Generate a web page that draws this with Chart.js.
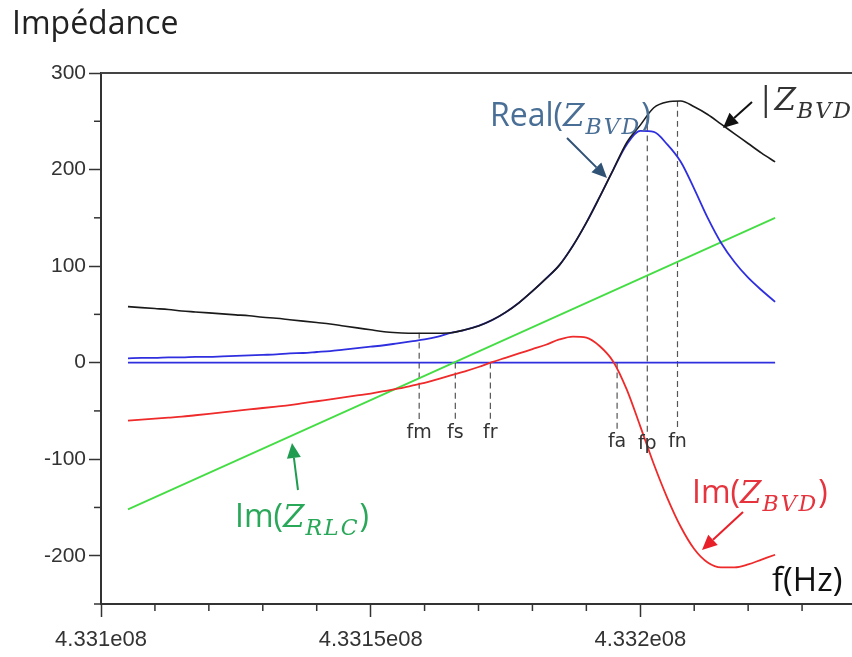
<!DOCTYPE html>
<html>
<head>
<meta charset="utf-8">
<title>Impédance</title>
<script src="https://cdn.jsdelivr.net/npm/chart.js@4.4.1/dist/chart.umd.min.js"></script>
<style>
  html, body { margin: 0; padding: 0; background: #fff; overflow: hidden; }
  #wrap { width: 866px; height: 657px; }
</style>
</head>
<body>
<div id="wrap"><canvas id="impChart" width="866" height="657"></canvas></div>
<script>
// fréquences : décalage en kHz par rapport à 433.1 MHz
const F0 = 433100000;
const freqKHz = [5, 7.5, 10, 12.5, 15, 17.5, 20, 22.5, 25, 27.5, 30, 32.5, 35, 37.5, 40, 42.5, 45,
  47.5, 50, 52.5, 55, 57.5, 60, 62.5, 65, 67.5, 70, 72.5, 75, 77.5, 80, 82.5, 85, 87.5, 90, 92.5,
  95, 97.5, 100, 102.5, 105, 107.5, 110, 112.5, 115, 117.5, 120, 122.5, 125];

// |Z_BVD|
const absZ = [58, 57, 56, 55, 53.5, 52.5, 51.5, 50.5, 49.5, 48.5, 47, 46, 44.5, 43, 41.5, 40, 38,
  36, 34, 32, 31, 30.5, 30.5, 30.5, 31, 34, 38, 44, 52, 62, 74, 87, 101, 121, 145, 172,
  200, 228, 246, 264, 270, 271, 265, 257, 247, 237, 227, 217, 208];
// Real(Z_BVD)
const realZ = [4.5, 5, 5, 5.5, 5.5, 6, 6, 6.5, 7, 7.5, 8, 8.5, 9.5, 10, 11, 12, 13.5,
  15, 16.5, 18, 20, 22, 24, 27, 31, 34, 38, 44, 52, 62, 74, 87, 101, 121, 145, 172,
  200, 226, 240, 239, 226, 208, 180, 150, 124, 104, 88, 75, 63];
// Im(Z_BVD)
const imBVD = [-60, -59, -58, -57, -56, -54.5, -53, -51.5, -50, -48.5, -47, -45.5, -44, -42, -40, -38, -36,
  -34, -32, -29.5, -27, -24, -21, -17, -13, -9, -4.5, 0.5, 5, 9.5, 14, 18.5, 24, 27, 26, 17,
  1, -28, -66, -105, -140, -170, -193, -207, -212, -212, -209, -204, -199];
// Im(Z_RLC) : droite
const rlcKHz = [5, 125];
const imRLC = [-152, 150];
// axe zéro
const zeroKHz = [5, 125];
const zeroVal = [0, 0];

// fréquences caractéristiques
const markerNames = ['fm', 'fs', 'fr', 'fa', 'fp', 'fn'];
const markerKHz = [59, 65.7, 72.2, 95.7, 101.3, 106.9];
const markerTop = [31, 0, 0, 0, 256, 271];
const markerBottom = [-61, -61, -61, -70, -72, -70];

const yTicks = [300, 200, 100, 0, -100, -200];

const toXY = (ks, vs) => ks.map((k, i) => ({ x: F0 + k * 1000, y: vs[i] }));

const SANS = '"Open Sans", "Noto Sans", sans-serif';
const SERIF = '"DejaVu Serif", serif';

function drawMath(ctx, x, y, parts, color) {
  ctx.fillStyle = color;
  ctx.textBaseline = 'alphabetic';
  ctx.textAlign = 'left';
  parts.forEach(p => {
    ctx.font = p.font;
    for (const ch of p.t) {
      ctx.fillText(ch, x, y + (p.dy || 0));
      x += ctx.measureText(ch).width + (p.sp || 0);
    }
  });
}

function drawArrow(ctx, x1, y1, x2, y2, color) {
  const a = Math.atan2(y2 - y1, x2 - x1);
  const hl = 15, hw = 7;
  const bx = x2 - hl * Math.cos(a), by = y2 - hl * Math.sin(a);
  ctx.strokeStyle = color;
  ctx.fillStyle = color;
  ctx.lineWidth = 2;
  ctx.beginPath();
  ctx.moveTo(x1, y1);
  ctx.lineTo(bx, by);
  ctx.stroke();
  ctx.beginPath();
  ctx.moveTo(x2, y2);
  ctx.lineTo(bx + hw * Math.sin(a), by - hw * Math.cos(a));
  ctx.lineTo(bx - hw * Math.sin(a), by + hw * Math.cos(a));
  ctx.closePath();
  ctx.fill();
}

function zLabel(prefix, sub, sans, serif, subFont) {
  return [
    { t: prefix, font: sans },
    { t: 'Z', font: serif, sp: 1 },
    { t: sub, font: subFont, dy: 8, sp: 2 },
    { t: prefix === '|' ? '|' : ')', font: sans }
  ];
}

const decor = {
  id: 'decor',
  afterDraw(chart) {
    const { ctx, chartArea, scales } = chart;
    ctx.save();
    // bord supérieur
    ctx.strokeStyle = '#444';
    ctx.lineWidth = 2;
    ctx.beginPath();
    ctx.moveTo(chartArea.left, chartArea.top);
    ctx.lineTo(chart.width, chartArea.top);
    ctx.stroke();

    // graduations secondaires
    ctx.strokeStyle = '#333';
    ctx.lineWidth = 1.5;
    scales.x.ticks.forEach(t => {
      if (Math.round((t.value - F0) / 10000) % 5 === 0) return;
      const px = scales.x.getPixelForValue(t.value);
      ctx.beginPath();
      ctx.moveTo(px, chartArea.bottom);
      ctx.lineTo(px, chartArea.bottom + 7);
      ctx.stroke();
    });
    scales.y.ticks.forEach(t => {
      if (t.value % 100 === 0) return;
      const py = scales.y.getPixelForValue(t.value);
      ctx.beginPath();
      ctx.moveTo(chartArea.left, py);
      ctx.lineTo(chartArea.left - 7, py);
      ctx.stroke();
    });

    // noms des fréquences
    ctx.fillStyle = '#333';
    ctx.font = '19px "DejaVu Sans", sans-serif';
    ctx.textAlign = 'center';
    ctx.textBaseline = 'middle';
    markerNames.forEach((n, i) => {
      const px = scales.x.getPixelForValue(F0 + markerKHz[i] * 1000);
      const py = scales.y.getPixelForValue(markerBottom[i]) + 12;
      ctx.fillText(n, px, py);
    });

    // titres
    drawMath(ctx, 12, 34, [{ t: 'Impédance', font: '32px ' + SANS }], '#222');
    drawMath(ctx, 772, 591, [{ t: 'f(Hz)', font: '33px ' + SANS }], '#111');

    const sans = '32px ' + SANS;
    const serif = 'italic 31px ' + SERIF;
    const sub = 'italic 22px ' + SERIF;
    drawMath(ctx, 490, 126, zLabel('Real(', 'BVD', sans, serif, sub), '#4a6f96');
    drawMath(ctx, 757, 110, zLabel('|', 'BVD', sans, serif, sub), '#333');
    drawMath(ctx, 235, 527, zLabel('Im(', 'RLC', sans, serif, sub), '#2aa85a');
    drawMath(ctx, 692, 503, zLabel('Im(', 'BVD', sans, serif, sub), '#e5343d');

    drawArrow(ctx, 567, 138, 607, 178, '#2f5275');
    drawArrow(ctx, 752, 102, 723, 128, '#111');
    drawArrow(ctx, 298, 490, 292, 443, '#1f9c50');
    drawArrow(ctx, 743, 512, 702, 550, '#e8202a');
    ctx.restore();
  }
};

const datasets = [
  { data: toXY(freqKHz, absZ), borderColor: '#1a1a1a', borderWidth: 1.6, order: 1 },
  { data: toXY(freqKHz, realZ), borderColor: '#2f2fe0', borderWidth: 1.8, order: 2 },
  { data: toXY(freqKHz, imBVD), borderColor: '#ee2a2a', borderWidth: 1.8, order: 3 },
  { data: toXY(rlcKHz, imRLC), borderColor: '#44dd44', borderWidth: 1.8, order: 4 },
  { data: toXY(zeroKHz, zeroVal), borderColor: '#2f2fe0', borderWidth: 1.6, order: 5 }
];
markerNames.forEach((n, i) => {
  const f = F0 + markerKHz[i] * 1000;
  datasets.push({
    data: [{ x: f, y: markerTop[i] }, { x: f, y: markerBottom[i] }],
    borderColor: '#555', borderWidth: 1.2, borderDash: [6, 4], order: 10
  });
});

const tickFont = { family: '"Liberation Sans", Arial, sans-serif', size: 21 };

new Chart(document.getElementById('impChart'), {
  type: 'line',
  data: { datasets },
  options: {
    responsive: false,
    animation: false,
    layout: { padding: { top: 73, right: 1, left: 0, bottom: 0 } },
    elements: { point: { radius: 0 }, line: { cubicInterpolationMode: 'monotone', fill: false } },
    plugins: { legend: { display: false }, tooltip: { enabled: false } },
    scales: {
      x: {
        type: 'linear',
        min: F0,
        max: F0 + 140000,
        afterFit: s => { s.height = 53; },
        ticks: {
          stepSize: 10000, autoSkip: false, maxRotation: 0, padding: 10,
          color: '#333', font: { ...tickFont, size: 22 },
          callback: v => Math.round((v - F0) / 10000) % 5 === 0 ? parseFloat((v / 1e8).toFixed(5)) + 'e08' : ''
        },
        grid: {
          drawOnChartArea: false, tickLength: 13, tickWidth: 1.5,
          tickColor: c => (c.tick && Math.round((c.tick.value - F0) / 10000) % 5 === 0) ? '#333' : 'rgba(0,0,0,0)'
        },
        border: { color: '#333', width: 2 }
      },
      y: {
        min: -250,
        max: 300,
        afterFit: s => { s.width = 101; },
        ticks: {
          stepSize: 50, autoSkip: false, padding: 3, color: '#333', font: tickFont,
          callback: v => yTicks.includes(v) ? String(v) : ''
        },
        grid: {
          drawOnChartArea: false, tickLength: 12, tickWidth: 1.5,
          tickColor: c => (c.tick && yTicks.includes(c.tick.value)) ? '#333' : 'rgba(0,0,0,0)'
        },
        border: { color: '#333', width: 2 }
      }
    }
  },
  plugins: [decor]
});
</script>
</body>
</html>
